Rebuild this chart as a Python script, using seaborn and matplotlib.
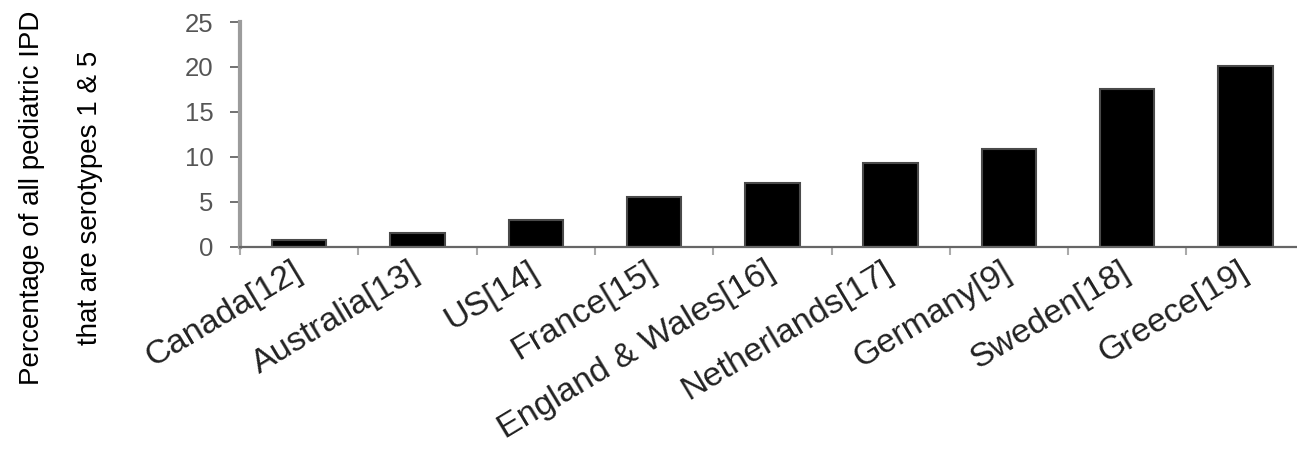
import matplotlib
matplotlib.use("Agg")
import matplotlib.pyplot as plt
import seaborn as sns
import pandas as pd
from matplotlib.ticker import FixedLocator

# Share of paediatric invasive pneumococcal disease caused by serotypes 1 and 5
countries = ["Canada[12]", "Australia[13]", "US[14]", "France[15]",
             "England & Wales[16]", "Netherlands[17]", "Germany[9]",
             "Sweden[18]", "Greece[19]"]
percent = [0.8, 1.5, 3.0, 5.5, 7.1, 9.3, 10.9, 17.5, 20.1]
y_ticks = [0, 5, 10, 15, 20, 25]

sns.set_theme(style="ticks")
plt.rcParams["font.family"] = ["Liberation Sans", "DejaVu Sans"]

df = pd.DataFrame({"country": countries, "percent": percent})

W, H = 1297, 449
fig = plt.figure(figsize=(W / 100, H / 100), dpi=100)
ax = fig.add_axes([240 / W, (H - 246.7) / H, (1304.7 - 240) / W, 224.7 / H])

sns.barplot(data=df, x="country", y="percent", color="black",
            saturation=1, width=0.46, edgecolor="#4a4a4a", linewidth=1.5,
            ax=ax)

ax.set_xlim(-0.5, len(countries) - 0.5)
ax.set_ylim(0, 25)
ax.set_yticks(y_ticks)
ax.set_xlabel("")
ax.set_ylabel("")

# spines
sns.despine(ax=ax, top=True, right=True)
ax.spines["left"].set_color("#9c9c9c")
ax.spines["left"].set_linewidth(3.0)
ax.spines["bottom"].set_color("#666666")
ax.spines["bottom"].set_linewidth(1.6)

# y ticks
ax.tick_params(axis="y", direction="out", length=7.2, width=1.3,
               color="#666666", labelsize=18.5, labelcolor="#555555", pad=12)

# category labels at bar centres, tick marks at category boundaries
ax.xaxis.set_minor_locator(FixedLocator([i - 0.5 for i in range(len(countries) + 1)]))
ax.tick_params(axis="x", which="major", length=0, pad=16)
ax.tick_params(axis="x", which="minor", direction="out", length=5.5,
               width=1.5, color="#aaaaaa")
ax.set_xticks(range(len(countries)))
ax.set_xticklabels(countries, rotation=31, ha="right", va="center",
                   rotation_mode="anchor", fontsize=24.5, color="#222222")

fig.text(61.5 / W, 1 - 198 / H,
         "Percentage of all pediatric IPD\nthat are serotypes 1 & 5",
         rotation=90, ha="center", va="center", multialignment="center",
         fontsize=20, linespacing=2.6, color="black")

fig.savefig("out.png", dpi=100)
